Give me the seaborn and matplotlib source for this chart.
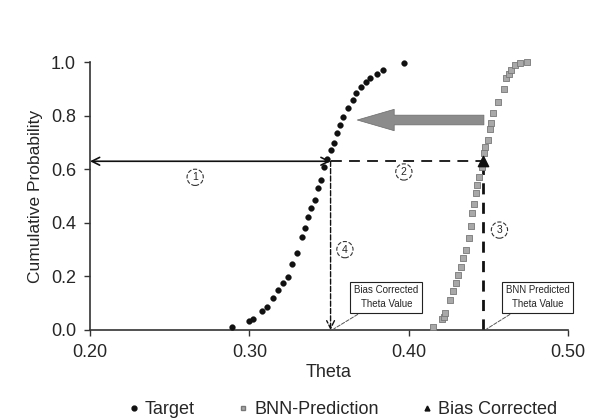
import numpy as np
import pandas as pd
import matplotlib
matplotlib.use("Agg")
import matplotlib.pyplot as plt
from matplotlib.lines import Line2D
import seaborn as sns

# values
target_theta = [0.289, 0.300, 0.302, 0.308, 0.311, 0.315, 0.318, 0.321, 0.324, 0.327,
                0.330, 0.333, 0.335, 0.337, 0.339, 0.341, 0.343, 0.345, 0.347, 0.349,
                0.351, 0.353, 0.355, 0.357, 0.359, 0.362, 0.365, 0.367, 0.370, 0.373,
                0.376, 0.380, 0.384, 0.397]
target_prob = [0.012, 0.035, 0.042, 0.070, 0.087, 0.118, 0.149, 0.175, 0.199, 0.245,
               0.286, 0.348, 0.380, 0.423, 0.455, 0.485, 0.530, 0.560, 0.609, 0.640,
               0.672, 0.700, 0.734, 0.765, 0.796, 0.830, 0.858, 0.885, 0.908, 0.925,
               0.939, 0.955, 0.970, 0.997]

bnn_theta = [0.415, 0.421, 0.422, 0.423, 0.426, 0.428, 0.430, 0.431, 0.433, 0.434,
             0.436, 0.438, 0.439, 0.440, 0.441, 0.442, 0.443, 0.444, 0.446, 0.447,
             0.448, 0.450, 0.451, 0.452, 0.453, 0.456, 0.460, 0.461, 0.463, 0.464,
             0.467, 0.470, 0.474]
bnn_prob = [0.012, 0.040, 0.050, 0.065, 0.112, 0.145, 0.174, 0.205, 0.236, 0.270,
            0.299, 0.342, 0.390, 0.435, 0.470, 0.510, 0.540, 0.572, 0.610, 0.659,
            0.685, 0.709, 0.750, 0.771, 0.809, 0.852, 0.900, 0.939, 0.955, 0.970,
            0.989, 0.995, 1.000]

target_value = 0.351
bnn_value = 0.4466
level = 0.63

sns.set_style("ticks")
plt.rcParams["font.family"] = ["Liberation Sans", "DejaVu Sans"]

fig = plt.figure(figsize=(5.91, 4.20), dpi=100)
ax = fig.add_axes([0.1523, 0.2143, 0.8087, 0.6377])

df_t = pd.DataFrame({"theta": target_theta, "prob": target_prob})
df_b = pd.DataFrame({"theta": bnn_theta, "prob": bnn_prob})

sns.scatterplot(data=df_b, x="theta", y="prob", ax=ax, marker="s", s=15,
                color="#a8a8a8", edgecolor="#777777", linewidth=0.6, clip_on=False, zorder=3)
sns.scatterplot(data=df_t, x="theta", y="prob", ax=ax, marker="o", s=17,
                color="#111111", edgecolor="#111111", linewidth=0.3, clip_on=False, zorder=4)

# step 1: horizontal double arrow to the y axis
ax.annotate("", xy=(0.2, level), xytext=(target_value, level),
            arrowprops=dict(arrowstyle="<->", color="#111111", lw=1.2,
                            shrinkA=0, shrinkB=0, mutation_scale=14), annotation_clip=False)
# step 2: dashed line between curves
ax.plot([target_value, bnn_value], [level, level], color="#111111", lw=1.3,
        dashes=(6, 4), zorder=2)
# step 3: vertical dashed from BNN value
ax.plot([bnn_value, bnn_value], [0, level], color="#111111", lw=2.0,
        dashes=(4, 3), zorder=2)
ax.scatter([bnn_value], [level], marker="^", s=55, color="#111111", zorder=5)
# step 4: vertical dashed arrow down to corrected value
ax.annotate("", xy=(target_value, 0.0), xytext=(target_value, level),
            arrowprops=dict(arrowstyle="->", color="#111111", lw=1.0, ls="--",
                            shrinkA=0, shrinkB=0, mutation_scale=14))

# big gray shift arrow
ax.annotate("", xy=(0.366, 0.784), xytext=(0.449, 0.784),
            arrowprops=dict(arrowstyle="simple,head_width=1.1,head_length=1.9,tail_width=0.5",
                            color="#8c8c8c", ec="#6a6a6a", lw=0.5, mutation_scale=14))

# circled step numbers
circ = dict(boxstyle="circle,pad=0.3", fc="white", ec="#333333", ls="--", lw=0.8)
for lab, xx, yy in [("1", 0.266, 0.57), ("2", 0.397, 0.59), ("3", 0.457, 0.373), ("4", 0.360, 0.30)]:
    ax.text(xx, yy, lab, fontsize=7.5, ha="center", va="center", bbox=circ, zorder=6)

# text boxes with dashed leaders
box = dict(boxstyle="square,pad=0.4", fc="white", ec="#222222", lw=0.8)
ax.annotate("Bias Corrected\nTheta Value", xy=(0.353, 0.004), xytext=(0.386, 0.123),
            fontsize=7, ha="center", va="center", bbox=box, linespacing=1.4,
            arrowprops=dict(arrowstyle="-", ls="--", color="#555555", lw=0.7, shrinkB=0))
ax.annotate("BNN Predicted\nTheta Value", xy=(0.449, 0.004), xytext=(0.481, 0.123),
            fontsize=7, ha="center", va="center", bbox=box, linespacing=1.4,
            arrowprops=dict(arrowstyle="-", ls="--", color="#555555", lw=0.7, shrinkB=0))

ax.set_xlim(0.2, 0.5)
ax.set_ylim(0.0, 1.0)
ax.set_xticks([0.2, 0.3, 0.4, 0.5])
ax.set_xticklabels(["0.20", "0.30", "0.40", "0.50"])
ax.set_yticks([0.0, 0.2, 0.4, 0.6, 0.8, 1.0])
ax.set_yticklabels(["0.0", "0.2", "0.4", "0.6", "0.8", "1.0"])
ax.tick_params(axis="both", labelsize=13, length=4, width=1, color="#333333", pad=6)
ax.set_xlabel("Theta", fontsize=13, labelpad=2)
ax.set_ylabel("Cumulative Probability", fontsize=12.5, labelpad=6)
for side in ["left", "bottom"]:
    ax.spines[side].set_color("#333333")
    ax.spines[side].set_linewidth(1.2)
sns.despine(ax=ax)

handles = [
    Line2D([], [], marker="o", ls="", color="#111111", markersize=3.5),
    Line2D([], [], marker="s", ls="", color="#a8a8a8", markeredgecolor="#777777", markersize=3.5),
    Line2D([], [], marker="^", ls="", color="#111111", markersize=3.5),
]
fig.legend(handles, ["Target", "BNN-Prediction", "Bias Corrected"], loc="center",
           bbox_to_anchor=(0.577, 0.025), ncol=3, frameon=False, fontsize=13,
           handletextpad=0.1, columnspacing=2.2, handlelength=1.0)

fig.savefig("out.png", dpi=100)
